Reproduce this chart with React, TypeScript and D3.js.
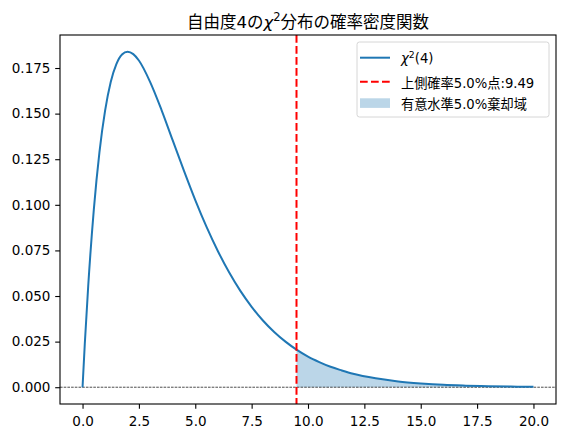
import React, { useRef, useEffect } from 'react';
import * as d3 from 'd3';

// 読み取った値 (x, 密度)
const xValues = [0, 0.1, 0.25, 0.5, 0.75, 1, 1.25, 1.5, 1.75, 2, 2.25, 2.5, 3, 3.5, 4, 4.5, 5, 5.5, 6, 6.5, 7, 7.5, 8, 8.5, 9, 9.49, 10, 10.5, 11, 11.5, 12, 13, 14, 15, 16, 17, 18, 19, 20];
const densities = [0, 0.0238, 0.0552, 0.0974, 0.1289, 0.1516, 0.1673, 0.1771, 0.1824, 0.1839, 0.1826, 0.1791, 0.1673, 0.1521, 0.1353, 0.1186, 0.1026, 0.0879, 0.0747, 0.0630, 0.0528, 0.0441, 0.0366, 0.0303, 0.0250, 0.0206, 0.0168, 0.0138, 0.0112, 0.0092, 0.0074, 0.0049, 0.0032, 0.0021, 0.0013, 0.00086, 0.00056, 0.00036, 0.00023];
const criticalValue = 9.49;
const xTicks = [0, 2.5, 5, 7.5, 10, 12.5, 15, 17.5, 20];
const yTicks = [0, 0.025, 0.05, 0.075, 0.1, 0.125, 0.15, 0.175];
const titleText = ['自由度4の', 'χ', '2', '分布の確率密度関数'];
const legendLabels = ['上側確率5.0%点:9.49', '有意水準5.0%棄却域'];

const FONT = '"DejaVu Sans", "Noto Sans CJK JP", sans-serif';

const App: React.FC = () => {
    const ref = useRef<HTMLDivElement>(null);

    useEffect(() => {
        document.body.style.margin = '0';
        const container = d3.select(ref.current);
        container.selectAll('*').remove();

        const W = 564, H = 438;
        const margin = { top: 35, right: 8, bottom: 34, left: 60 };
        const width = W - margin.left - margin.right;
        const height = H - margin.top - margin.bottom;

        const svg = container.append('svg')
            .attr('width', W)
            .attr('height', H)
            .style('display', 'block')
            .style('font-family', FONT);

        const data = xValues.map((x, i) => ({ x, y: densities[i] }));

        const x = d3.scaleLinear().domain([-1, 21]).range([0, width]);
        const y = d3.scaleLinear().domain([-0.0092, 0.1931]).range([height, 0]);

        const chart = svg.append('g').attr('transform', `translate(${margin.left},${margin.top})`);

        // 棄却域
        const tail = data.filter(d => d.x >= criticalValue);
        chart.append('path')
            .datum(tail)
            .attr('d', d3.area<{ x: number; y: number }>()
                .x(d => x(d.x))
                .y0(y(0))
                .y1(d => y(d.y))
                .curve(d3.curveMonotoneX))
            .attr('fill', '#1f77b4')
            .attr('fill-opacity', 0.3);

        // y=0 の線
        chart.append('line')
            .attr('x1', 0).attr('x2', width)
            .attr('y1', y(0)).attr('y2', y(0))
            .attr('stroke', 'black')
            .attr('stroke-width', 0.7)
            .attr('stroke-dasharray', '2.6,1.1');

        // 密度曲線
        chart.append('path')
            .datum(data)
            .attr('d', d3.line<{ x: number; y: number }>()
                .x(d => x(d.x))
                .y(d => y(d.y))
                .curve(d3.curveMonotoneX))
            .attr('fill', 'none')
            .attr('stroke', '#1f77b4')
            .attr('stroke-width', 2);

        // 上側確率点
        chart.append('line')
            .attr('x1', x(criticalValue)).attr('x2', x(criticalValue))
            .attr('y1', 0).attr('y2', height)
            .attr('stroke', 'red')
            .attr('stroke-width', 2)
            .attr('stroke-dasharray', '7.7,3.3');

        // 枠
        chart.append('rect')
            .attr('width', width).attr('height', height)
            .attr('fill', 'none')
            .attr('stroke', 'black')
            .attr('stroke-width', 1.1);

        // 軸
        const xAxis = chart.append('g')
            .attr('transform', `translate(0,${height})`)
            .call(d3.axisBottom(x).tickValues(xTicks).tickFormat(d3.format('.1f')).tickSize(4.8).tickPadding(4.8));
        const yAxis = chart.append('g')
            .call(d3.axisLeft(y).tickValues(yTicks).tickFormat(d3.format('.3f')).tickSize(4.8).tickPadding(4.8));
        [xAxis, yAxis].forEach(a => {
            a.select('.domain').remove();
            a.selectAll('text').attr('font-size', 13.5).attr('font-family', FONT).attr('fill', 'black');
            a.selectAll('line').attr('stroke', 'black').attr('stroke-width', 1.1);
        });
        xAxis.selectAll('text').attr('dy', '0.95em');

        // タイトル
        const title = svg.append('text')
            .attr('x', margin.left + width / 2)
            .attr('y', 27.5)
            .attr('text-anchor', 'middle')
            .attr('font-size', 16.5)
            .attr('fill', 'black');
        title.append('tspan').text(titleText[0]);
        title.append('tspan').attr('font-style', 'italic').text(titleText[1]);
        title.append('tspan').attr('font-size', 11.5).attr('dy', -6.5).text(titleText[2]);
        title.append('tspan').attr('dy', 6.5).text(titleText[3]);

        // 凡例
        const lg = svg.append('g').attr('transform', 'translate(357,42)');
        lg.append('rect')
            .attr('width', 192).attr('height', 75)
            .attr('rx', 2.5)
            .attr('fill', 'white')
            .attr('fill-opacity', 0.8)
            .attr('stroke', '#d6d6d6');
        lg.append('line')
            .attr('x1', 3).attr('x2', 33).attr('y1', 15.7).attr('y2', 15.7)
            .attr('stroke', '#1f77b4').attr('stroke-width', 2);
        lg.append('line')
            .attr('x1', 3).attr('x2', 33).attr('y1', 39.7).attr('y2', 39.7)
            .attr('stroke', 'red').attr('stroke-width', 2).attr('stroke-dasharray', '7.7,3.3');
        lg.append('rect')
            .attr('x', 3).attr('y', 56.3).attr('width', 30).attr('height', 9.6)
            .attr('fill', '#1f77b4').attr('fill-opacity', 0.3);

        const l1 = lg.append('text').attr('x', 44).attr('y', 21).attr('font-size', 13.2).attr('fill', 'black');
        l1.append('tspan').attr('font-style', 'italic').text('χ');
        l1.append('tspan').attr('font-size', 9.3).attr('dy', -5.5).text('2');
        l1.append('tspan').attr('dy', 5.5).text('(4)');
        lg.append('text').attr('x', 44).attr('y', 46).attr('font-size', 13.2).attr('fill', 'black').text(legendLabels[0]);
        lg.append('text').attr('x', 44).attr('y', 67).attr('font-size', 13.2).attr('fill', 'black').text(legendLabels[1]);
    }, []);

    return <div ref={ref} />;
};

export default App;
